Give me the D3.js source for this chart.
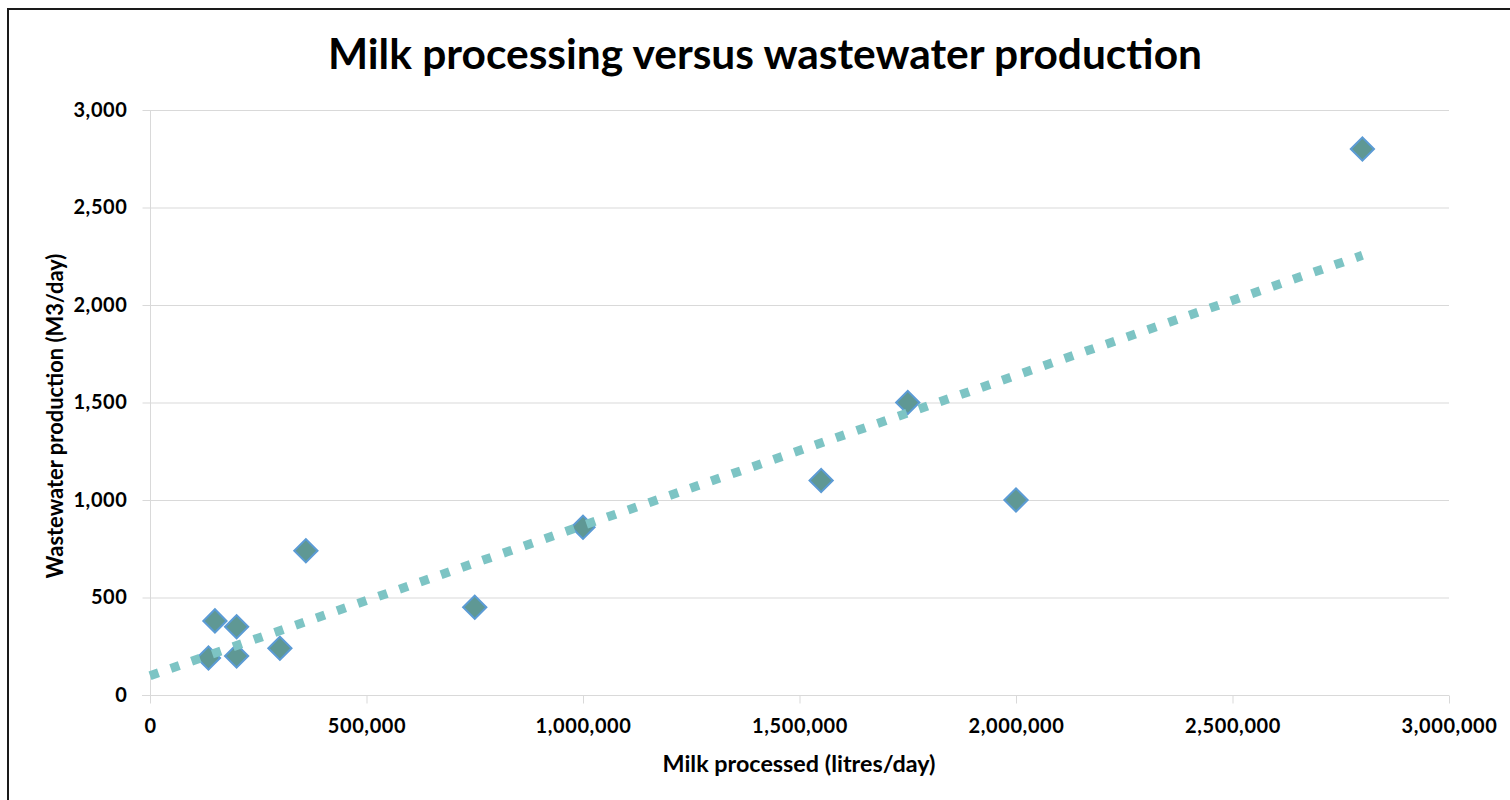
<!DOCTYPE html>
<html>
<head>
<meta charset="utf-8">
<script src="https://cdn.jsdelivr.net/npm/d3@7"></script>
<style>
  html, body { margin: 0; padding: 0; background: #fff; }
  svg { display: block; }
  text { font-family: Lato, "Open Sans", "Noto Sans", sans-serif; font-weight: bold; fill: #000; }
</style>
</head>
<body>
<svg id="chart" width="1510" height="800"></svg>
<script>
// Milk processed (litres/day) and wastewater produced (m3/day) per plant
const milkProcessed = [135000, 150000, 200000, 200000, 300000, 360000, 750000, 1000000, 1550000, 1750000, 2000000, 2800000];
const wastewater    = [190, 380, 350, 200, 240, 740, 450, 860, 1100, 1500, 1000, 2800];

const xTicks = [0, 500000, 1000000, 1500000, 2000000, 2500000, 3000000];
const yTicks = [0, 500, 1000, 1500, 2000, 2500, 3000];

const titleText = "Milk processing versus wastewater production";
const xLabelText = "Milk processed (litres/day)";
const yLabelText = "Wastewater production (M3/day)";

const svg = d3.select("#chart");
const W = 1510, H = 800;
const plot = { left: 150, right: 1449, top: 110, bottom: 695 };

svg.append("rect").attr("width", W).attr("height", H).attr("fill", "#fff");
// chart frame
svg.append("rect")
  .attr("x", 8).attr("y", 9).attr("width", W + 20).attr("height", H + 20)
  .attr("fill", "none").attr("stroke", "#1a1a1a").attr("stroke-width", 2);

const x = d3.scaleLinear().domain([0, 3000000]).range([plot.left, plot.right]);
const y = d3.scaleLinear().domain([0, 3000]).range([plot.bottom, plot.top]);
const fmt = d3.format(",");
const gridColor = "#d9d9d9";

// horizontal gridlines
svg.append("g").selectAll("line").data(yTicks.filter(t => t > 0)).join("line")
  .attr("x1", plot.left).attr("x2", plot.right)
  .attr("y1", d => y(d) + 0.5).attr("y2", d => y(d) + 0.5)
  .attr("stroke", gridColor).attr("stroke-width", 1);

// axes
const yAxis = svg.append("g").attr("transform", `translate(${plot.left + 0.5},0)`)
  .call(d3.axisLeft(y).tickValues(yTicks).tickFormat(fmt).tickSize(8).tickSizeOuter(0).tickPadding(15));
const xAxis = svg.append("g").attr("transform", `translate(0,${plot.bottom + 0.5})`)
  .call(d3.axisBottom(x).tickValues(xTicks).tickFormat(fmt).tickSize(8).tickSizeOuter(0).tickPadding(15));
[yAxis, xAxis].forEach(g => {
  g.select(".domain").attr("stroke", gridColor);
  g.selectAll(".tick line").attr("stroke", gridColor);
  g.selectAll(".tick text").style("font-size", "20px").style("letter-spacing", "0.6px").attr("fill", "#111");
});
// extend the axis lines by the tick length at the origin
yAxis.select(".domain").attr("d", `M0,${plot.top}V${plot.bottom + 8}`);
xAxis.select(".domain").attr("d", `M${plot.left - 8},0H${plot.right}`);

// least-squares trendline
const n = milkProcessed.length;
const mx = d3.mean(milkProcessed), my = d3.mean(wastewater);
let sxy = 0, sxx = 0;
for (let i = 0; i < n; i++) {
  sxy += (milkProcessed[i] - mx) * (wastewater[i] - my);
  sxx += (milkProcessed[i] - mx) ** 2;
}
const slope = sxy / sxx, intercept = my - slope * mx;
const xMax = d3.max(milkProcessed);

// diamond markers
const diamond = d3.symbol().type(d3.symbolSquare).size(270);
svg.append("g").selectAll("path").data(d3.zip(milkProcessed, wastewater)).join("path")
  .attr("d", diamond)
  .attr("transform", d => `translate(${x(d[0])},${y(d[1])}) rotate(45)`)
  .attr("fill", "#5f9894").attr("stroke", "#5b9bd5").attr("stroke-width", 2);

svg.append("line")
  .attr("x1", x(0)).attr("y1", y(intercept))
  .attr("x2", x(xMax)).attr("y2", y(intercept + slope * xMax))
  .attr("stroke", "#7dc4c4").attr("stroke-width", 9)
  .attr("stroke-dasharray", "9,13").attr("stroke-linecap", "butt");

// size a text element so that it spans the given width
function fitText(sel, width, base) {
  sel.style("font-size", base + "px");
  const w = sel.node().getComputedTextLength();
  sel.style("font-size", (base * width / w).toFixed(2) + "px");
  return sel;
}

// title and axis titles
fitText(svg.append("text").attr("x", 765).attr("y", 69).attr("text-anchor", "middle").text(titleText), 874, 40);
fitText(svg.append("text").attr("x", 799).attr("y", 772).attr("text-anchor", "middle").text(xLabelText), 273, 21);
fitText(svg.append("text").attr("transform", "translate(63,416) rotate(-90)").attr("text-anchor", "middle").text(yLabelText), 325, 21);
</script>
</body>
</html>
